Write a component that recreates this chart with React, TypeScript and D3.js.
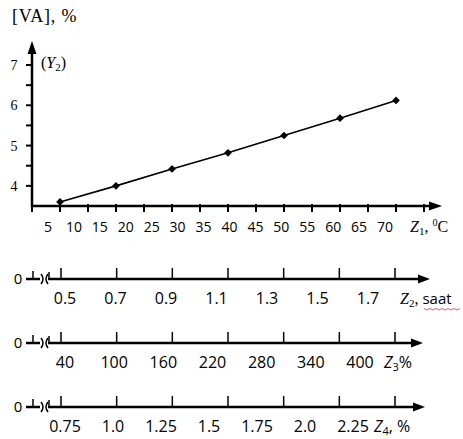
import * as d3 from 'd3';
import React from 'react';

const width = 463;
const height = 439;

// main chart data
const z1 = [10, 20, 30, 40, 50, 60, 70];
const y2 = [3.6, 4.0, 4.42, 4.82, 5.25, 5.68, 6.12];
const z1Labels = [5, 10, 15, 20, 25, 30, 35, 40, 45, 50, 55, 60, 65, 70];
const z1Ticks = d3.range(5, 80, 5);
const yLabels = [4, 5, 6, 7];
const yTicks = [4, 4.5, 5, 5.5, 6, 6.5, 7];

// the three lower scales
const z2Labels = ['0.5', '0.7', '0.9', '1.1', '1.3', '1.5', '1.7'];
const z3Labels = ['40', '100', '160', '220', '280', '340', '400'];
const z4Labels = ['0.75', '1.0', '1.25', '1.5', '1.75', '2.0', '2.25'];

const serif = '"Liberation Serif", "Times New Roman", serif';
const sans = '"Open Sans", "Liberation Sans", sans-serif';

const xScale = d3.scaleLinear().domain([5, 75]).range([32, 424]);
const xLabelScale = d3.scaleLinear().domain([5, 70]).range([48, 385]);
const yScale = d3.scaleLinear().domain([3.5, 7]).range([206, 65]);

const x0 = 32;
const y0 = 206;

const lineGen = d3
  .line<number>()
  .x((d, i) => xScale(z1[i]))
  .y(d => yScale(d));

// square turned 45deg, a flatter diamond than d3.symbolDiamond
const marker = d3.symbol().type(d3.symbolSquare).size(30)();

// tick positions of the lower scales (labels get their own range per axis)
const idx = d3.range(7);
const lowTick = d3.scaleLinear().domain([0, 6]).range([61, 395]);

function LowerAxis({ y, labels, end, labelEnd, children }) {
  const lowLabel = d3.scaleLinear().domain([0, 6]).range([65, labelEnd]);
  return (
    <g>
      <text x={18} y={y + 5} fontFamily={sans} fontSize={15} textAnchor="middle">0</text>
      <line x1={26} x2={40} y1={y} y2={y} stroke="#000" strokeWidth={2.5} />
      <line x1={33} x2={33} y1={y - 8} y2={y} stroke="#000" strokeWidth={1.5} />
      <path d={`M41,${y - 5} Q45,${y} 41,${y + 5}`} fill="none" stroke="#000" strokeWidth={1.5} />
      <path d={`M48,${y - 5} Q44,${y} 48,${y + 5}`} fill="none" stroke="#000" strokeWidth={1.5} />
      <line x1={49} x2={49} y1={y - 7} y2={y} stroke="#000" strokeWidth={1.5} />
      <line x1={48} x2={end - 8} y1={y} y2={y} stroke="#000" strokeWidth={2.5} />
      <path d={`M${end},${y} L${end - 12},${y - 4.5} L${end - 12},${y + 4.5} Z`} fill="#000" />
      {idx.map(i => (
        <line key={i} x1={lowTick(i)} x2={lowTick(i)} y1={y - 11} y2={y} stroke="#000" strokeWidth={1.5} />
      ))}
      {labels.map((l, i) => (
        <text key={l} x={lowLabel(i)} y={y + 25} fontFamily={sans} fontSize={16} textAnchor="middle">
          {l}
        </text>
      ))}
      {children}
    </g>
  );
}

export default function App() {
  return (
    <svg
      width={width}
      height={height}
      style={{ position: 'absolute', left: 0, top: 0, background: '#fff' }}
    >
      <text x={12} y={22} fontFamily={serif} fontSize={18} letterSpacing={0.8}>
        [VA], %
      </text>

      {/* y axis */}
      <line x1={x0} x2={x0} y1={y0 + 1} y2={52} stroke="#000" strokeWidth={2.5} />
      <path d={`M${x0},41 L${x0 - 4.5},54 L${x0 + 4.5},54 Z`} fill="#000" />
      {yTicks.map(t => (
        <line key={t} x1={x0 - 6} x2={x0} y1={yScale(t)} y2={yScale(t)} stroke="#000" strokeWidth={2} />
      ))}
      {yLabels.map(t => (
        <text key={t} x={14} y={yScale(t) + 5} fontFamily={serif} fontSize={14} textAnchor="middle">
          {t}
        </text>
      ))}
      <text x={41} y={68} fontFamily={serif} fontSize={16}>
        (<tspan fontStyle="italic">Y</tspan>
        <tspan fontSize={11} dy={3}>2</tspan>
        <tspan dy={-3}>)</tspan>
      </text>

      {/* x axis */}
      <line x1={x0 - 1} x2={432} y1={y0} y2={y0} stroke="#000" strokeWidth={2.5} />
      <path d={`M442,${y0} L429,${y0 - 4.5} L429,${y0 + 4.5} Z`} fill="#000" />
      {z1Ticks.map(t => (
        <line key={t} x1={xScale(t)} x2={xScale(t)} y1={y0 - 2} y2={y0 + 6} stroke="#000" strokeWidth={2} />
      ))}
      {z1Labels.map(t => (
        <text key={t} x={xLabelScale(t)} y={232} fontFamily={sans} fontSize={14} textAnchor="middle">
          {t}
        </text>
      ))}
      <text x={410} y={232} fontFamily={serif} fontSize={16}>
        <tspan fontStyle="italic">Z</tspan>
        <tspan fontSize={11} dy={3}>1</tspan>
        <tspan dy={-3}>, </tspan>
        <tspan fontSize={10} dy={-6}>0</tspan>
        <tspan dy={6}>C</tspan>
      </text>

      {/* data */}
      <path d={lineGen(y2) || ''} fill="none" stroke="#000" strokeWidth={1.6} />
      {y2.map((v, i) => (
        <path
          key={i}
          d={marker || ''}
          transform={`translate(${xScale(z1[i])},${yScale(v)}) rotate(45)`}
          fill="#000"
        />
      ))}

      <LowerAxis y={279} labels={z2Labels} end={430} labelEnd={368}>
        <text x={400} y={304} fontFamily={serif} fontSize={16}>
          <tspan fontStyle="italic">Z</tspan>
          <tspan fontSize={11} dy={3}>2</tspan>
          <tspan dy={-3}>, </tspan>
          <tspan fontFamily={sans} fontSize={15}>saat</tspan>
        </text>
        <path
          d={d3.range(424, 463, 3).map((x, i) => `${i ? 'L' : 'M'}${x},${i % 2 ? 310 : 308.5}`).join(' ')}
          fill="none"
          stroke="#e03030"
          strokeWidth={0.8}
        />
      </LowerAxis>

      <LowerAxis y={343} labels={z3Labels} end={423} labelEnd={360}>
        <text x={384} y={368} fontFamily={sans} fontSize={16}>
          <tspan fontStyle="italic">Z</tspan>
          <tspan fontSize={11} dy={3}>3</tspan>
          <tspan dy={-3}>%</tspan>
        </text>
      </LowerAxis>

      <LowerAxis y={407} labels={z4Labels} end={425} labelEnd={353}>
        <text x={374} y={432} fontFamily={sans} fontSize={16}>
          <tspan fontStyle="italic">Z</tspan>
          <tspan fontSize={11} dy={3}>4</tspan>
          <tspan dy={-3}>, %</tspan>
        </text>
      </LowerAxis>
    </svg>
  );
}
